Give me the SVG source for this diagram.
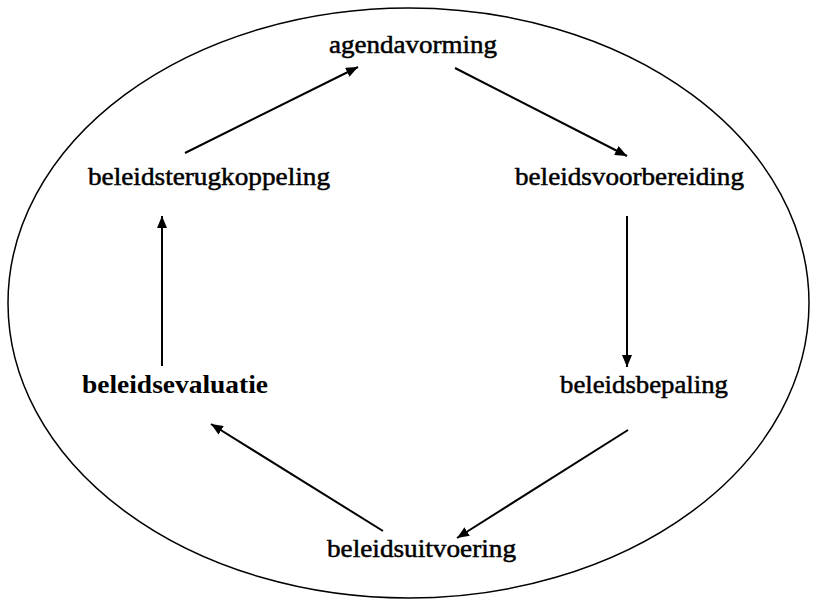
<svg xmlns="http://www.w3.org/2000/svg" width="814" height="602" viewBox="0 0 814 602">
<defs>
<style>
.lbl{font-family:"Liberation Serif","Times New Roman",serif;font-size:25px;fill:#000;stroke:#000;stroke-width:0.5}
.bold{font-weight:bold;stroke-width:0}
.con{stroke:#000;stroke-width:2;fill:none;marker-end:url(#ah)}
</style>
<marker id="ah" markerUnits="userSpaceOnUse" viewBox="0 0 12 10" refX="12" refY="5" markerWidth="12" markerHeight="10" orient="auto">
<path d="M0,0 L12,5 L0,10 z" fill="#000"/>
</marker>
</defs>
<rect width="814" height="602" fill="#fff"/>
<ellipse cx="408.5" cy="303" rx="400.5" ry="295" fill="none" stroke="#000" stroke-width="1.5"/>
<g id="connectors">
<line class="con" x1="185" y1="153" x2="358" y2="67"/>
<line class="con" x1="455" y1="68" x2="627" y2="156"/>
<line class="con" x1="627" y1="216" x2="627" y2="367"/>
<line class="con" x1="628" y1="430" x2="457" y2="538"/>
<line class="con" x1="383" y1="531" x2="211" y2="424"/>
<line class="con" x1="162" y1="366" x2="162" y2="216"/>
</g>
<g id="agendavorming"><text class="lbl" x="329" y="53" textLength="168" lengthAdjust="spacingAndGlyphs">agendavorming</text></g>
<g id="beleidsterugkoppeling"><text class="lbl" x="88" y="185" textLength="242" lengthAdjust="spacingAndGlyphs">beleidsterugkoppeling</text></g>
<g id="beleidsvoorbereiding"><text class="lbl" x="515" y="185" textLength="229" lengthAdjust="spacingAndGlyphs">beleidsvoorbereiding</text></g>
<g id="beleidsevaluatie"><text class="lbl bold" x="82" y="393" textLength="186" lengthAdjust="spacingAndGlyphs">beleidsevaluatie</text></g>
<g id="beleidsbepaling"><text class="lbl" x="560" y="393" textLength="168" lengthAdjust="spacingAndGlyphs">beleidsbepaling</text></g>
<g id="beleidsuitvoering"><text class="lbl" x="327" y="557" textLength="189" lengthAdjust="spacingAndGlyphs">beleidsuitvoering</text></g>
</svg>
